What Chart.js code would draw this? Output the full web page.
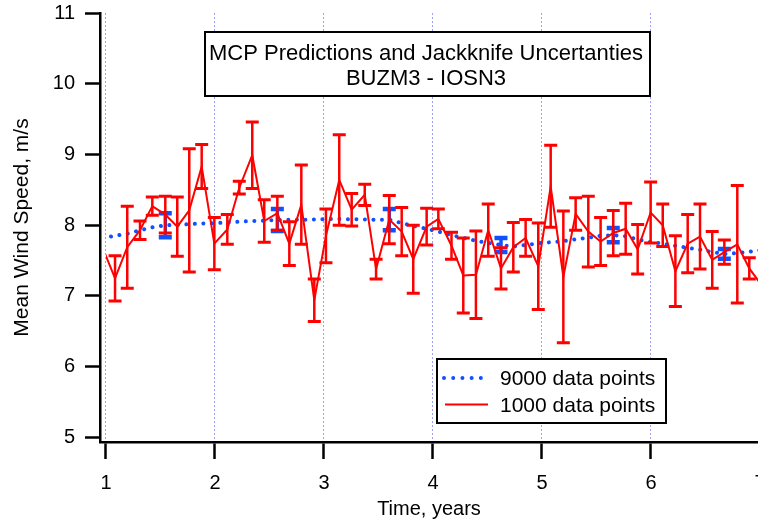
<!DOCTYPE html>
<html>
<head>
<meta charset="utf-8">
<script src="https://cdn.jsdelivr.net/npm/chart.js@4.4.1/dist/chart.umd.min.js"></script>
<style>
  html, body { margin: 0; padding: 0; background: #fff; }
  #wind-chart { display: block; }
</style>
</head>
<body>
<canvas id="wind-chart" width="758" height="525"></canvas>
<script>
// time of each estimate, years (one every 1000 hourly points)
const times = [0.969, 1.083, 1.195, 1.312, 1.425, 1.544, 1.654, 1.764, 1.878, 1.994,
    2.113, 2.223, 2.342, 2.452, 2.572, 2.682, 2.792, 2.911, 3.018, 3.140,
    3.254, 3.374, 3.478, 3.599, 3.713, 3.819, 3.942, 4.049, 4.170, 4.278,
    4.394, 4.507, 4.624, 4.737, 4.850, 4.966, 5.080, 5.196, 5.309, 5.425,
    5.538, 5.654, 5.768, 5.878, 5.997, 6.108, 6.224, 6.337, 6.450, 6.562,
    6.673, 6.792, 6.902, 7.016];

// 1000 data points: mean wind speed and jackknife uncertainty
const mean1000 = [7.68, 7.25, 7.69, 7.93, 8.27, 8.15, 7.98, 8.21, 8.83, 7.74,
    7.94, 8.53, 8.99, 8.06, 8.17, 7.74, 8.29, 6.94, 7.85, 8.64,
    8.22, 8.43, 7.38, 8.08, 7.91, 7.52, 7.98, 8.09, 7.71, 7.29,
    7.30, 7.93, 7.39, 7.69, 7.82, 7.42, 8.55, 7.27, 8.16, 7.91,
    7.77, 7.89, 7.95, 7.66, 8.18, 8.00, 7.35, 7.74, 7.84, 7.51,
    7.62, 7.73, 7.39, 7.15];
const err1000 = [0.30, 0.32, 0.58, 0.13, 0.13, 0.26, 0.42, 0.87, 0.31, 0.37,
    0.21, 0.09, 0.47, 0.30, 0.24, 0.31, 0.56, 0.30, 0.38, 0.64,
    0.23, 0.15, 0.14, 0.34, 0.34, 0.48, 0.26, 0.14, 0.19, 0.53,
    0.62, 0.37, 0.29, 0.35, 0.26, 0.61, 0.58, 0.93, 0.23, 0.50,
    0.34, 0.32, 0.36, 0.35, 0.43, 0.30, 0.50, 0.41, 0.46, 0.40,
    0.17, 0.83, 0.15, 0.20];

// 9000 data points
const mean9000 = [7.82, 7.85, 7.88, 7.93, 7.97, 8.00, 8.005, 8.015, 8.025, 8.03,
    8.04, 8.05, 8.06, 8.065, 8.075, 8.078, 8.078, 8.08, 8.088, 8.088,
    8.085, 8.082, 8.078, 8.08, 8.03, 7.99, 7.95, 7.91, 7.86, 7.82,
    7.78, 7.75, 7.72, 7.70, 7.72, 7.745, 7.76, 7.775, 7.80, 7.825,
    7.85, 7.86, 7.845, 7.80, 7.76, 7.74, 7.71, 7.68, 7.655, 7.62,
    7.595, 7.605, 7.625, 7.65];
const err9000 = [null, null, null, null, null, 0.17, null, null, null, null,
    null, null, null, null, 0.155, null, null, null, null, null,
    null, null, null, 0.15, null, null, null, null, null, null,
    null, null, 0.10, null, null, null, null, null, null, null,
    null, 0.10, null, null, null, null, null, null, null, null,
    0.07, null, null, null];

const xTicks = [1, 2, 3, 4, 5, 6, 7];
const yTicks = [5, 6, 7, 8, 9, 10, 11];

const titleLines = ['MCP Predictions and Jackknife Uncertanties', 'BUZM3 - IOSN3'];
const legendLabels = ['9000 data points', '1000 data points'];

const RED = '#ff0000';
const BLUE = 'rgb(16, 80, 255)';
const FONT = '"Liberation Sans", Arial, sans-serif';

// draws the jackknife error bars right after each dataset
const errorBars = {
    id: 'errorBars',
    afterDatasetDraw(chart, args) {
        const ds = chart.data.datasets[args.index];
        const eb = ds.errorBars;
        if (!eb) return;
        const { ctx, chartArea } = chart;
        const xs = chart.scales.x, ys = chart.scales.y;
        const left = xs.getPixelForValue(1);
        ctx.save();
        ctx.beginPath();
        ctx.rect(left, chartArea.top, chartArea.right - left, chartArea.bottom - chartArea.top);
        ctx.clip();
        ctx.strokeStyle = ds.borderColor;
        ctx.lineCap = 'butt';
        ds.data.forEach((pt, i) => {
            const e = eb.values[i];
            if (e == null) return;
            // points past the axis ends only feed the line
            if (pt.x < 1 || pt.x > xs.max) return;
            const x = xs.getPixelForValue(pt.x);
            const yHi = ys.getPixelForValue(pt.y + e);
            const yLo = ys.getPixelForValue(pt.y - e);
            ctx.lineWidth = eb.stem;
            ctx.beginPath();
            ctx.moveTo(x, yHi);
            ctx.lineTo(x, yLo);
            ctx.stroke();
            ctx.lineWidth = eb.capThick;
            ctx.beginPath();
            ctx.moveTo(x - eb.capHalf, yHi);
            ctx.lineTo(x + eb.capHalf, yHi);
            ctx.moveTo(x - eb.capHalf, yLo);
            ctx.lineTo(x + eb.capHalf, yLo);
            ctx.stroke();
        });
        ctx.restore();
    }
};

// title box and legend box inside the plot
const annotations = {
    id: 'annotations',
    afterDraw(chart) {
        const ctx = chart.ctx;
        ctx.save();

        ctx.fillStyle = '#fff';
        ctx.fillRect(205, 32, 445, 64);
        ctx.strokeStyle = '#000';
        ctx.lineWidth = 2;
        ctx.strokeRect(205, 32, 445, 64);
        ctx.fillStyle = '#000';
        ctx.font = '22px ' + FONT;
        ctx.textAlign = 'center';
        ctx.textBaseline = 'middle';
        ctx.fillText(titleLines[0], 426, 54);
        ctx.fillText(titleLines[1], 426, 79);

        ctx.fillStyle = '#fff';
        ctx.fillRect(437, 359, 229, 64);
        ctx.strokeRect(437, 359, 229, 64);

        ctx.strokeStyle = BLUE;
        ctx.lineWidth = 4;
        ctx.lineCap = 'round';
        ctx.setLineDash([0.01, 9.2]);
        ctx.beginPath();
        ctx.moveTo(444, 378);
        ctx.lineTo(482, 378);
        ctx.stroke();
        ctx.setLineDash([]);
        ctx.lineCap = 'butt';
        ctx.strokeStyle = RED;
        ctx.lineWidth = 2;
        ctx.beginPath();
        ctx.moveTo(445, 404.5);
        ctx.lineTo(488, 404.5);
        ctx.stroke();

        ctx.fillStyle = '#000';
        ctx.font = '21px ' + FONT;
        ctx.textAlign = 'left';
        ctx.fillText(legendLabels[0], 500, 379);
        ctx.fillText(legendLabels[1], 500, 406);
        ctx.restore();
    }
};

const canvas = document.querySelector('#wind-chart');

const chart = new Chart(canvas, {
    type: 'line',
    data: {
        datasets: [
            {
                label: legendLabels[1],
                data: times.map((t, i) => ({ x: t, y: mean1000[i] })),
                borderColor: RED,
                borderWidth: 2,
                pointRadius: 0,
                tension: 0,
                clip: { left: -6, top: 0, right: 0, bottom: 0 },
                errorBars: { values: err1000, stem: 2.5, capHalf: 6.5, capThick: 3 }
            },
            {
                label: legendLabels[0],
                data: times.map((t, i) => ({ x: t, y: mean9000[i] })),
                borderColor: BLUE,
                borderWidth: 4,
                borderDash: [0.01, 8.5],
                borderCapStyle: 'round',
                pointRadius: 0,
                tension: 0,
                clip: { left: -6, top: 0, right: 0, bottom: 0 },
                errorBars: { values: err9000, stem: 3.5, capHalf: 6.5, capThick: 4.5 }
            }
        ]
    },
    options: {
        responsive: false,
        animation: false,
        devicePixelRatio: 1,
        layout: { padding: { top: 13, right: 0, left: 0, bottom: 0 } },
        plugins: {
            legend: { display: false },
            tooltip: { enabled: false }
        },
        scales: {
            x: {
                type: 'linear',
                min: 0.945,
                max: 6.982,
                afterBuildTicks: scale => { scale.ticks = xTicks.map(v => ({ value: v })); },
                afterFit: scale => {
                    scale.height = 83;
                    scale.paddingLeft = 0;
                    scale.paddingRight = 0;
                },
                ticks: {
                    autoSkip: false,
                    maxRotation: 0,
                    padding: 12,
                    color: '#000',
                    font: { family: FONT, size: 20 }
                },
                grid: {
                    color: 'rgb(160, 160, 250)',
                    lineWidth: 1,
                    tickLength: 17,
                    tickColor: '#000',
                    tickWidth: 2.5,
                    tickBorderDash: []
                },
                border: { display: true, color: '#000', width: 2.5, dash: [2, 2] },
                title: {
                    display: true,
                    text: 'Time, years',
                    color: '#000',
                    font: { family: FONT, size: 20 },
                    padding: { top: 0, bottom: 4 }
                }
            },
            y: {
                type: 'linear',
                min: 4.936,
                max: 11,
                afterBuildTicks: scale => { scale.ticks = yTicks.map(v => ({ value: v })); },
                afterFit: scale => {
                    scale.width = 100;
                    scale.paddingTop = 0;
                    scale.paddingBottom = 0;
                },
                ticks: {
                    padding: 10,
                    color: '#000',
                    font: { family: FONT, size: 20 }
                },
                grid: {
                    drawOnChartArea: false,
                    tickLength: 15,
                    tickColor: '#000',
                    tickWidth: 2.5
                },
                border: { display: true, color: '#000', width: 2.5 },
                title: {
                    display: true,
                    text: 'Mean Wind Speed, m/s',
                    color: '#000',
                    font: { family: FONT, size: 21 },
                    padding: { top: 10, bottom: 0 }
                }
            }
        }
    },
    plugins: [errorBars, annotations]
});
</script>
</body>
</html>
